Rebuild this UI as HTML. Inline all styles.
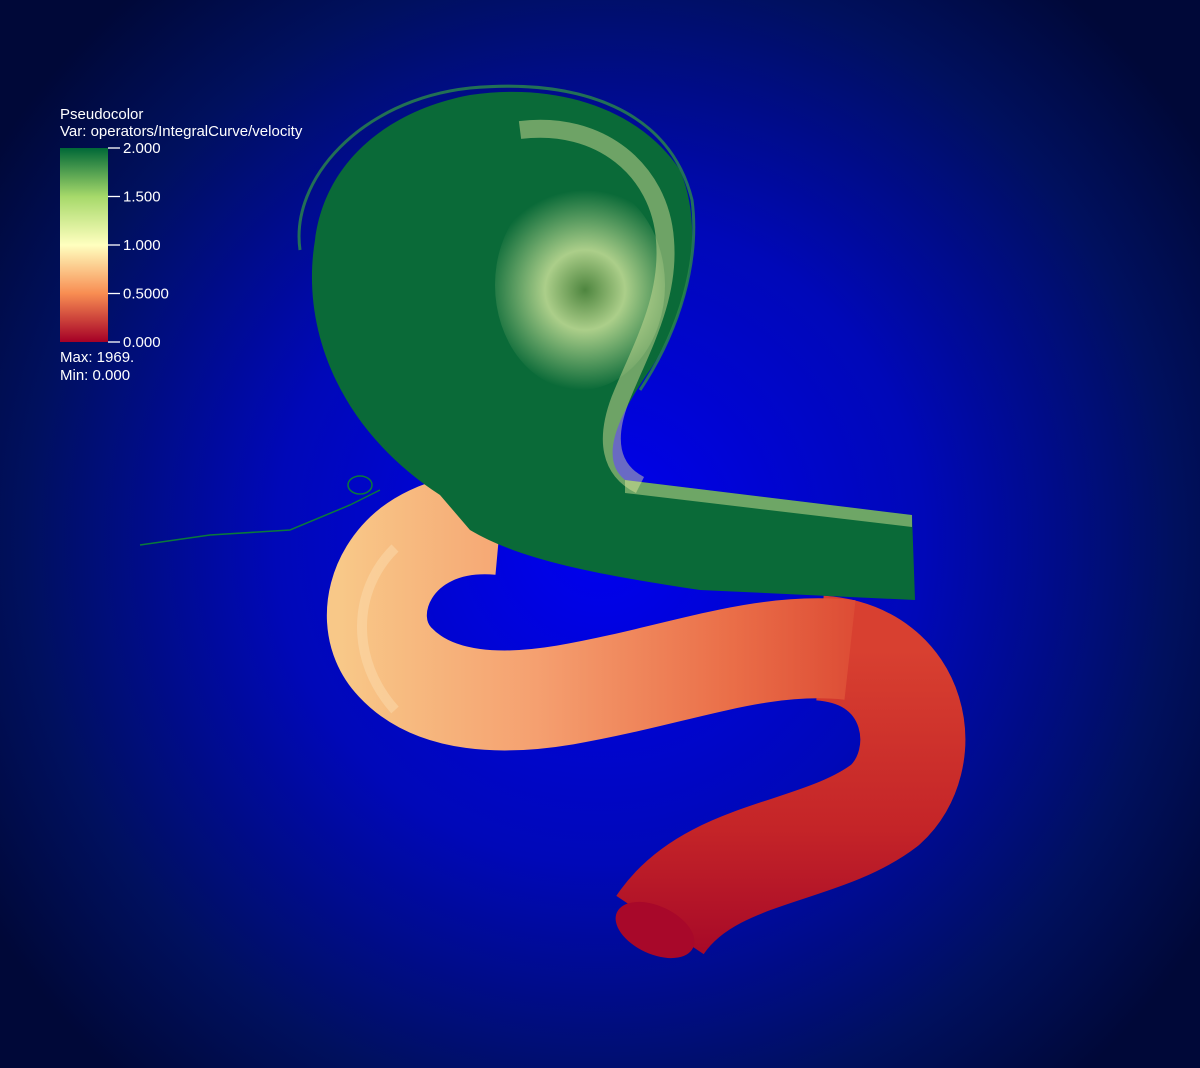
<!DOCTYPE html>
<html><head><meta charset="utf-8">
<style>
html,body{margin:0;padding:0;width:1200px;height:1068px;overflow:hidden;background:#000040}
svg{display:block}
text{font-family:"Liberation Sans",sans-serif;fill:#fff}
</style></head>
<body>
<svg width="1200" height="1068" viewBox="0 0 1200 1068">
<defs>
<radialGradient id="bg" cx="600" cy="540" r="720" gradientUnits="userSpaceOnUse">
<stop offset="0" stop-color="#0000f0"/>
<stop offset="0.45" stop-color="#0008b8"/>
<stop offset="0.8" stop-color="#00105e"/>
<stop offset="1" stop-color="#000838"/>
</radialGradient>
<linearGradient id="cbar" x1="0" y1="0" x2="0" y2="1">
<stop offset="0" stop-color="#006837"/>
<stop offset="0.25" stop-color="#a6d96a"/>
<stop offset="0.5" stop-color="#ffffbf"/>
<stop offset="0.75" stop-color="#f88d52"/>
<stop offset="1" stop-color="#a50026"/>
</linearGradient>
<linearGradient id="orng" x1="340" y1="0" x2="900" y2="0" gradientUnits="userSpaceOnUse">
<stop offset="0" stop-color="#f8c888"/>
<stop offset="0.35" stop-color="#f5a070"/>
<stop offset="0.7" stop-color="#ea6e48"/>
<stop offset="1" stop-color="#d8402e"/>
</linearGradient>
<linearGradient id="redg" x1="0" y1="650" x2="0" y2="950" gradientUnits="userSpaceOnUse">
<stop offset="0" stop-color="#d84030"/>
<stop offset="0.6" stop-color="#c42428"/>
<stop offset="1" stop-color="#a80a28"/>
</linearGradient>
<radialGradient id="core" cx="585" cy="290" r="100" gradientUnits="userSpaceOnUse">
<stop offset="0" stop-color="#5a8a40"/>
<stop offset="0.4" stop-color="#c8e098"/>
<stop offset="1" stop-color="#c8e098" stop-opacity="0"/>
</radialGradient>
</defs>
<rect width="1200" height="1068" fill="url(#bg)"/>

<path d="M140 545 L210 535 L290 530 L350 505 L380 490" fill="none" stroke="#0a7a3a" stroke-width="1.5"/>
<ellipse cx="360" cy="485" rx="12" ry="9" fill="none" stroke="#0a7a3a" stroke-width="1.5"/>

<!-- red section -->
<path d="M820 648 C920 655,935 760,885 805 C820 855,710 850,660 925" fill="none" stroke="url(#redg)" stroke-width="105"/>
<!-- orange band -->
<path d="M500 525 C390 515,350 615,395 662 C435 705,505 705,565 695 C680 675,760 640,850 650" fill="none" stroke="url(#orng)" stroke-width="100" stroke-linecap="butt"/>
<path d="M395 548 C352 590,350 660,395 710" fill="none" stroke="#fbdcae" stroke-width="10" opacity="0.5"/>
<ellipse cx="655" cy="930" rx="42" ry="24" transform="rotate(25 655 930)" fill="#a8082a"/>

<!-- green blob -->
<path d="M440 495 C340 430,300 330,315 240 C325 160,390 110,470 95 C560 82,640 110,680 170 C705 230,690 310,650 370 C615 420,600 460,625 480 L912 515 L915 600 L700 590 C600 575,520 560,470 530 Z" fill="#0a6a38"/>
<path d="M300 250 C290 180,360 100,470 88 C580 78,670 110,692 200 C700 260,680 330,640 390" fill="none" stroke="#2a8a48" stroke-width="3" opacity="0.8"/>
<path d="M520 130 C600 120,660 170,665 240 C670 300,640 350,620 400 C605 440,610 470,640 485" fill="none" stroke="#e8e8a0" stroke-width="18" opacity="0.45"/>
<ellipse cx="580" cy="285" rx="85" ry="105" fill="url(#core)" opacity="0.85"/>
<path d="M625 480 L912 515 L912 527 L625 493 Z" fill="#e8f0a0" opacity="0.45"/>

<!-- legend -->
<g>
<text x="60" y="119" font-size="15">Pseudocolor</text>
<text x="60" y="136" font-size="15">Var: operators/IntegralCurve/velocity</text>
<rect x="60" y="148" width="48" height="194" fill="url(#cbar)"/>
<g id="ticks"></g>
<text x="60" y="362" font-size="15">Max:  1969.</text>
<text x="60" y="380" font-size="15">Min:  0.000</text>
</g>
</svg>
<script>
const tickLabels = ["2.000","1.500","1.000","0.5000","0.000"];
const tickValues = [2,1.5,1,0.5,0];
const g = document.getElementById('ticks');
const ns = 'http://www.w3.org/2000/svg';
tickValues.forEach((v,i)=>{
  const y = 342 - (v/2)*194;
  const l = document.createElementNS(ns,'line');
  l.setAttribute('x1',108);l.setAttribute('x2',120);l.setAttribute('y1',y);l.setAttribute('y2',y);
  l.setAttribute('stroke','#fff');l.setAttribute('stroke-width','1.3');
  
  
  g.appendChild(l);
  const t = document.createElementNS(ns,'text');
  t.setAttribute('x',123);t.setAttribute('y',y+5);t.setAttribute('font-size','15');
  t.textContent = tickLabels[i];
  
  
  g.appendChild(t);
});
</script>
</body></html>
